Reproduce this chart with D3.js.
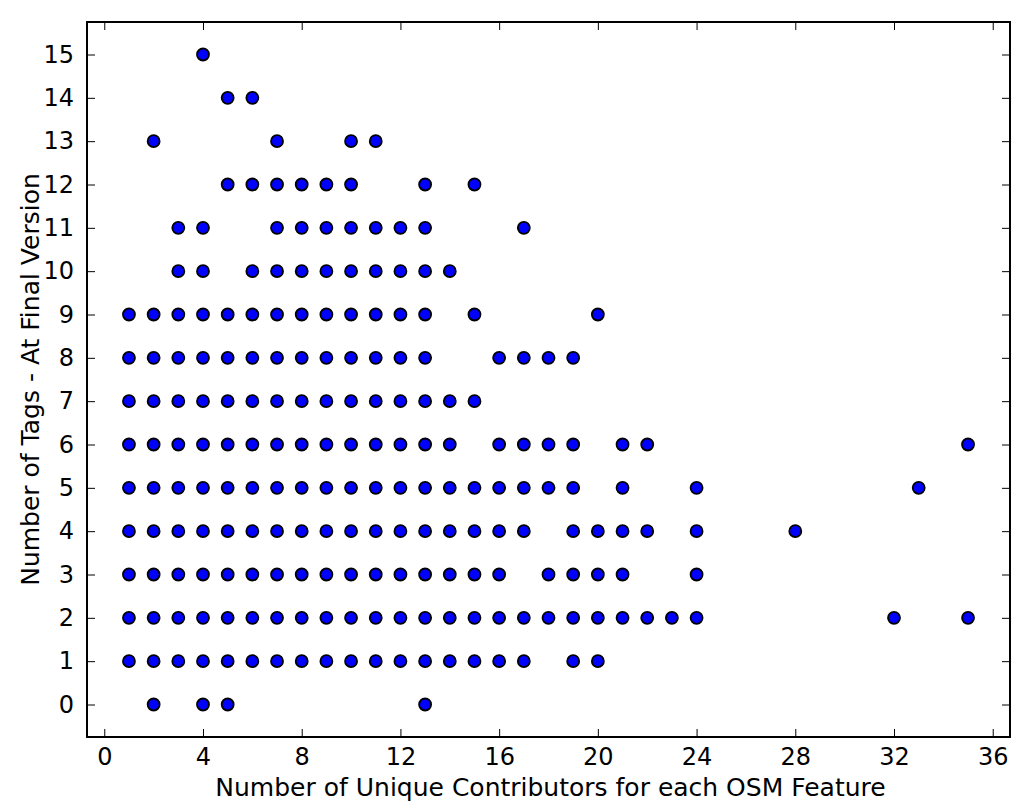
<!DOCTYPE html>
<html>
<head>
<meta charset="utf-8">
<script src="https://cdn.jsdelivr.net/npm/d3@7"></script>
<style>
  html, body { margin: 0; padding: 0; background: #ffffff; }
  svg { display: block; font-family: "DejaVu Sans", sans-serif; }
</style>
</head>
<body>
<svg id="chart" width="1024" height="809"></svg>
<script>
// ---- Data ----
// Number of tags at final version (y) and, for each, the contributor counts (x) observed
const tagLevels = [0, 1, 2, 3, 4, 5, 6, 7, 8, 9, 10, 11, 12, 13, 14, 15];
const tags0  = [2, 4, 5, 13];
const tags1  = [1, 2, 3, 4, 5, 6, 7, 8, 9, 10, 11, 12, 13, 14, 15, 16, 17, 19, 20];
const tags2  = [1, 2, 3, 4, 5, 6, 7, 8, 9, 10, 11, 12, 13, 14, 15, 16, 17, 18, 19, 20, 21, 22, 23, 24, 32, 35];
const tags3  = [1, 2, 3, 4, 5, 6, 7, 8, 9, 10, 11, 12, 13, 14, 15, 16, 18, 19, 20, 21, 24];
const tags4  = [1, 2, 3, 4, 5, 6, 7, 8, 9, 10, 11, 12, 13, 14, 15, 16, 17, 19, 20, 21, 22, 24, 28];
const tags5  = [1, 2, 3, 4, 5, 6, 7, 8, 9, 10, 11, 12, 13, 14, 15, 16, 17, 18, 19, 21, 24, 33];
const tags6  = [1, 2, 3, 4, 5, 6, 7, 8, 9, 10, 11, 12, 13, 14, 16, 17, 18, 19, 21, 22, 35];
const tags7  = [1, 2, 3, 4, 5, 6, 7, 8, 9, 10, 11, 12, 13, 14, 15];
const tags8  = [1, 2, 3, 4, 5, 6, 7, 8, 9, 10, 11, 12, 13, 16, 17, 18, 19];
const tags9  = [1, 2, 3, 4, 5, 6, 7, 8, 9, 10, 11, 12, 13, 15, 20];
const tags10 = [3, 4, 6, 7, 8, 9, 10, 11, 12, 13, 14];
const tags11 = [3, 4, 7, 8, 9, 10, 11, 12, 13, 17];
const tags12 = [5, 6, 7, 8, 9, 10, 13, 15];
const tags13 = [2, 7, 10, 11];
const tags14 = [5, 6];
const tags15 = [4];
const contributorsByTag = [tags0, tags1, tags2, tags3, tags4, tags5, tags6, tags7,
                           tags8, tags9, tags10, tags11, tags12, tags13, tags14, tags15];

const xTicks = [0, 4, 8, 12, 16, 20, 24, 28, 32, 36];
const yTicks = [0, 1, 2, 3, 4, 5, 6, 7, 8, 9, 10, 11, 12, 13, 14, 15];
const xLabel = "Number of Unique Contributors for each OSM Feature";
const yLabel = "Number of Tags - At Final Version";

// build point table
const points = [];
tagLevels.forEach((t, i) => contributorsByTag[i].forEach(c => points.push({x: c, y: t})));

// ---- Layout ----
const L = 87, R = 1010, T = 22, B = 737;
const svg = d3.select("#chart");

const x = d3.scaleLinear().domain([-0.7, 36.7]).range([L, R]);
const y = d3.scaleLinear().domain([-0.75, 15.75]).range([B, T]);

const tickFont = 24;
const labelFont = 25;
const tickLen = 8;

// points
svg.append("g")
  .selectAll("circle")
  .data(points)
  .enter().append("circle")
  .attr("cx", d => x(d.x))
  .attr("cy", d => y(d.y))
  .attr("r", 6)
  .attr("fill", "#0000ff")
  .attr("stroke", "#000000")
  .attr("stroke-width", 1.8);

// axes (inward ticks on all sides)
function styleAxis(g) {
  g.select(".domain").remove();
  g.selectAll(".tick line").attr("stroke", "#000").attr("stroke-width", 1);
  g.selectAll(".tick text").attr("font-family", "DejaVu Sans").attr("font-size", tickFont).attr("fill", "#000");
}

const xBottom = svg.append("g").attr("transform", `translate(0,${B})`)
  .call(d3.axisBottom(x).tickValues(xTicks).tickFormat(d3.format("d")).tickSizeInner(-tickLen).tickSizeOuter(0).tickPadding(11));
styleAxis(xBottom);

const xTop = svg.append("g").attr("transform", `translate(0,${T})`)
  .call(d3.axisTop(x).tickValues(xTicks).tickFormat("").tickSizeInner(-tickLen).tickSizeOuter(0));
styleAxis(xTop);

const yLeft = svg.append("g").attr("transform", `translate(${L},0)`)
  .call(d3.axisLeft(y).tickValues(yTicks).tickFormat(d3.format("d")).tickSizeInner(-tickLen).tickSizeOuter(0).tickPadding(13));
styleAxis(yLeft);

const yRight = svg.append("g").attr("transform", `translate(${R},0)`)
  .call(d3.axisRight(y).tickValues(yTicks).tickFormat("").tickSizeInner(-tickLen).tickSizeOuter(0));
styleAxis(yRight);

// frame
svg.append("rect")
  .attr("x", L).attr("y", T)
  .attr("width", R - L).attr("height", B - T)
  .attr("fill", "none")
  .attr("stroke", "#000")
  .attr("stroke-width", 2);

// axis labels
svg.append("text")
  .attr("x", (L + R) / 2 + 2)
  .attr("y", 796)
  .attr("text-anchor", "middle")
  .attr("font-size", labelFont)
  .attr("fill", "#000")
  .text(xLabel);

svg.append("text")
  .attr("transform", `translate(39,${(T + B) / 2}) rotate(-90)`)
  .attr("text-anchor", "middle")
  .attr("font-size", labelFont)
  .attr("fill", "#000")
  .text(yLabel);
</script>
</body>
</html>
